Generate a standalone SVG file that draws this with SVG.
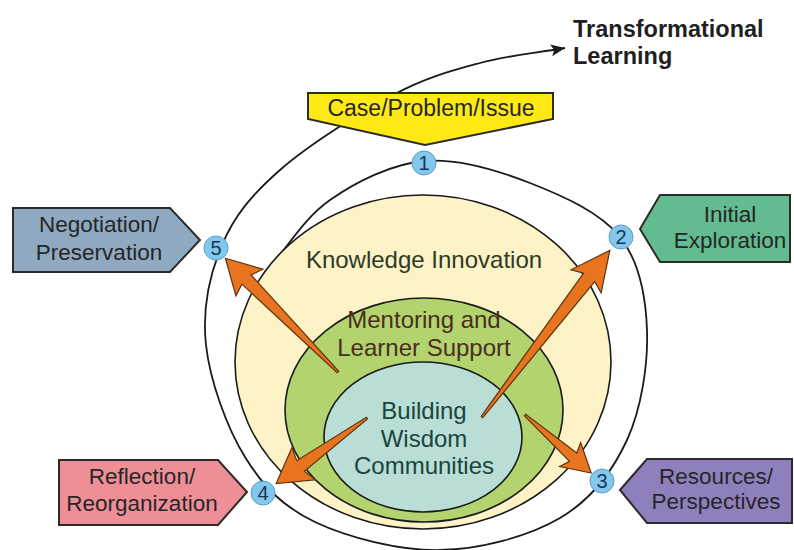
<svg xmlns="http://www.w3.org/2000/svg" width="794" height="550" viewBox="0 0 794 550">
<style>
text{font-family:"Liberation Sans",Arial,sans-serif;text-anchor:middle}
.ell{stroke:#1a1a1a;stroke-width:1.6}
.box{stroke:#2b2b2b;stroke-width:2}
.lbl{font-size:22.5px;fill:#262626}
.inner{font-size:24px}
.num circle{fill:#82C7EC;stroke:#5A9DC8;stroke-width:1}
.num text{font-size:20px;fill:#1C3556}
.arr{fill:#E8741F;stroke:#5E3512;stroke-width:1.2;stroke-linejoin:miter}
.spiral{fill:none;stroke:#1a1a1a;stroke-width:1.8}
.tl{font-size:23.5px;font-weight:bold;fill:#1f1f1f;text-anchor:start}
</style>
<defs>
<marker id="ah" markerUnits="userSpaceOnUse" markerWidth="16" markerHeight="14" refX="14" refY="6" orient="auto">
<path d="M0,0 L14,6 L0,12 L3,6 z" fill="#1a1a1a"/>
</marker>
</defs>
<rect width="794" height="550" fill="#ffffff"/>

<g id="connectors">
<path class="spiral" marker-end="url(#ah)" d="M266,272 C287.3,248 303.5,218.5 330,200 C356.5,181.5 391.7,163.8 425,161 C458.3,158.2 497.5,170.3 530,183 C562.5,195.7 600.5,212.5 620,237 C639.5,261.5 645.8,296.2 647,330 C648.2,363.8 641.5,408.7 627,440 C612.5,471.3 591.2,499.7 560,518 C528.8,536.3 480.8,549.3 440,550 C399.2,550.7 347.5,537.5 315,522 C282.5,506.5 263.2,486.5 245,457 C226.8,427.5 209.8,380.3 206,345 C202.2,309.7 209.7,274.2 222,245 C234.3,215.8 251.5,195 280,170 C308.5,145 359.7,112.8 393,95 C426.3,77.2 451.3,70.8 480,63 C508.7,55.2 536.7,53 565,48"/>
</g>

<g id="knowledge-innovation">
<ellipse class="ell" cx="423" cy="362" rx="188" ry="167" fill="#FDF3C6"/>
<text class="inner" x="424" y="268" fill="#2E3A27">Knowledge Innovation</text>
</g>
<g id="mentoring">
<ellipse class="ell" cx="424" cy="410" rx="139" ry="112" fill="#B2D36E"/>
<text class="inner" x="424" y="328" fill="#4A2D1E">Mentoring and</text>
<text class="inner" x="424" y="356" fill="#4A2D1E">Learner Support</text>
</g>
<g id="building">
<ellipse class="ell" cx="423" cy="437" rx="99" ry="75" fill="#B8DED5"/>
<text class="inner" x="424" y="419" fill="#1D4340">Building</text>
<text class="inner" x="424" y="447" fill="#1D4340">Wisdom</text>
<text class="inner" x="424" y="474" fill="#1D4340">Communities</text>
</g>

<g id="arrows">
<polygon class="arr" transform="translate(482,417) rotate(-52.5)" points="0,-1 176,-7 171,-19 210,0 171,19 176,7 0,1"/>
<polygon class="arr" transform="translate(525,415) rotate(41.2)" points="0,-1 64,-5.5 60,-16 88,0 60,16 64,5.5 0,1"/>
<polygon class="arr" transform="translate(367,418) rotate(144.2)" points="0,-1 82,-6.5 78,-20 112,0 78,20 82,6.5 0,1"/>
<polygon class="arr" transform="translate(338,372) rotate(-134.7)" points="0,-1 130,-6.5 126,-19 160,0 126,19 130,6.5 0,1"/>
</g>

<g id="transformational-learning">
<text class="tl" x="573" y="37">Transformational</text>
<text class="tl" x="573" y="64">Learning</text>
</g>

<g id="case-problem-issue">
<polygon class="box" points="308,93 553,93 553,119 425,145 308,119" fill="#FFE915"/>
<text class="lbl" x="431" y="116" style="font-size:23px">Case/Problem/Issue</text>
</g>

<g id="negotiation-preservation">
<polygon class="box" points="13,208 170,208 200,240 170,272 13,272" fill="#8FA9C1"/>
<text class="lbl" x="99" y="232">Negotiation/</text>
<text class="lbl" x="99" y="260">Preservation</text>
</g>

<g id="initial-exploration">
<polygon class="box" points="640,229 660,195 790,195 790,262 660,262" fill="#63BC8F"/>
<text class="lbl" x="730" y="222">Initial</text>
<text class="lbl" x="730" y="248">Exploration</text>
</g>

<g id="reflection-reorganization">
<polygon class="box" points="59,460 218,460 247,492 218,525 59,525" fill="#EE8E96"/>
<text class="lbl" x="142" y="484" fill="#3A1E1E">Reflection/</text>
<text class="lbl" x="142" y="511" fill="#3A1E1E">Reorganization</text>
</g>

<g id="resources-perspectives">
<polygon class="box" points="620,490 647,459 792,459 792,523 647,523" fill="#8F80BD"/>
<text class="lbl" x="716" y="484" fill="#241E3A">Resources/</text>
<text class="lbl" x="716" y="509" fill="#241E3A">Perspectives</text>
</g>

<g id="n1" class="num"><circle cx="424" cy="163" r="12"/><text x="424" y="170">1</text></g>
<g id="n2" class="num"><circle cx="621" cy="237" r="12"/><text x="621" y="244">2</text></g>
<g id="n3" class="num"><circle cx="602" cy="481" r="12"/><text x="602" y="488">3</text></g>
<g id="n4" class="num"><circle cx="263" cy="493" r="12"/><text x="263" y="500">4</text></g>
<g id="n5" class="num"><circle cx="216" cy="248" r="12"/><text x="216" y="255">5</text></g>
</svg>
